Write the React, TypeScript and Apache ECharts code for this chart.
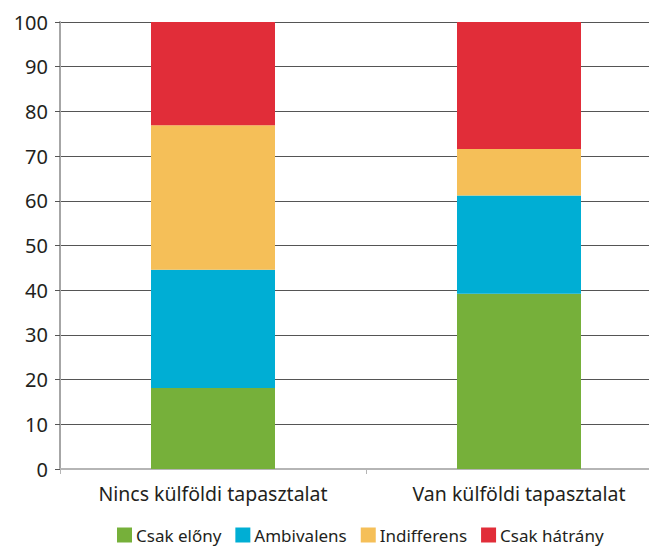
import React, { useEffect, useRef } from "react";
import * as echarts from "echarts";

const categories = ["Nincs külföldi tapasztalat", "Van külföldi tapasztalat"];
const seriesNames = ["Csak előny", "Ambivalens", "Indifferens", "Csak hátrány"];
const csakElony = [18.1, 39.2];
const ambivalens = [26.5, 22.0];
const indifferens = [32.3, 10.4];
const csakHatrany = [23.1, 28.4];
const colors = ["#76B03A", "#00AED4", "#F5BF58", "#E12D39"];

const FONT = "'Noto Sans', sans-serif";

export default function App() {
  const ref = useRef<HTMLDivElement>(null);
  useEffect(() => {
    if (!ref.current) return;
    const chart = echarts.init(ref.current, null, { renderer: "svg" });
    const values = [csakElony, ambivalens, indifferens, csakHatrany];
    chart.setOption({
      animation: false,
      textStyle: { fontFamily: FONT },
      grid: { left: 60, right: 0, top: 22, bottom: 78 },
      legend: {
        top: 526,
        left: 117,
        padding: 0,
        itemWidth: 15,
        itemHeight: 15,
        itemGap: 14,
        icon: "rect",
        textStyle: { fontSize: 17, lineHeight: 18, color: "#231f20", fontFamily: FONT, padding: [0, 0, 0, -1] },
        data: seriesNames,
      },
      xAxis: {
        type: "category",
        data: categories,
        axisLine: { lineStyle: { color: "#b5b5b5", width: 2 } },
        axisTick: { show: true, length: 5, lineStyle: { color: "#b5b5b5", width: 1 } },
        axisLabel: { fontSize: 19.5, color: "#231f20", margin: 14, fontFamily: FONT },
      },
      yAxis: {
        type: "value",
        min: 0,
        max: 100,
        interval: 10,
        axisLine: { show: true, lineStyle: { color: "#a6a6a6", width: 2 } },
        axisTick: { show: true, length: 5, lineStyle: { color: "#555555", width: 1 } },
        axisLabel: { fontSize: 20, color: "#231f20", margin: 12, fontFamily: FONT },
        splitLine: { show: true, lineStyle: { color: "#555555", width: 1 } },
      },
      series: seriesNames.map((name, i) => ({
        name,
        type: "bar",
        stack: "total",
        barWidth: 124,
        data: values[i],
        itemStyle: { color: colors[i] },
      })),
    });
    return () => chart.dispose();
  }, []);
  return (
    <div style={{ position: "fixed", left: 0, top: 0, width: 649, height: 547, overflow: "hidden", background: "#fff" }}>
      <div ref={ref} style={{ width: 672, height: 547 }} />
    </div>
  );
}
